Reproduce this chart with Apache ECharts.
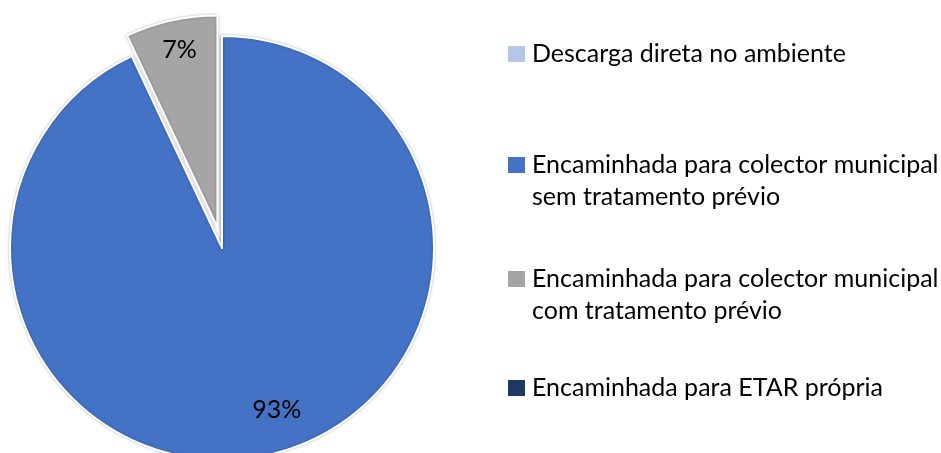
<!DOCTYPE html>
<html>
<head>
<meta charset="utf-8">
<script src="https://cdn.jsdelivr.net/npm/echarts@6/dist/echarts.min.js"></script>
<style>
  html, body { margin: 0; padding: 0; background: #fff; }
  #chart { width: 941px; height: 453px; }
</style>
</head>
<body>
<div id="chart"></div>
<script>
// destino das águas residuais (%)
var categories = [
  'Descarga direta no ambiente',
  'Encaminhada para colector municipal\nsem tratamento prévio',
  'Encaminhada para colector municipal\ncom tratamento prévio',
  'Encaminhada para ETAR própria'
];
var values = [0, 93, 7, 0];
var colors = ['#B4C7E7', '#4472C4', '#A5A5A5', '#203864'];

var FONT = 'Lato';
var FONT_SIZE = 25;
var legendTops = [38, 117, 231, 372];

var labelOffsets = [[0, 0], [31, 56], [-14, -71], [0, 0]];

var pieData = categories.map(function (name, i) {
  var lbl = { show: values[i] > 0, offset: labelOffsets[i] };
  return {
    name: name,
    value: values[i],
    selected: i === 2,
    itemStyle: { color: colors[i] },
    label: lbl,
    select: { label: lbl }
  };
});

// uma legenda por item para reproduzir o espaçamento
var legends = categories.map(function (name, i) {
  return {
    data: [name],
    orient: 'vertical',
    left: 508,
    top: legendTops[i],
    padding: 0,
    itemWidth: 17,
    itemHeight: 16,
    icon: 'rect',
    selectedMode: false,
    itemStyle: { color: colors[i], borderColor: colors[i], borderWidth: 0, shadowBlur: 0 },
    // linha vazia em cima: o ícone fica alinhado com a 1ª linha
    formatter: function (n) {
      return n.indexOf('\n') >= 0 ? ' \n' + n : n;
    },
    textStyle: {
      fontFamily: FONT,
      fontSize: FONT_SIZE,
      lineHeight: 32,
      color: '#000',
      padding: [0, 0, 0, 2]
    }
  };
});

var myChart = echarts.init(document.getElementById('chart'));
myChart.setOption({
  animation: false,
  legend: legends,
  series: [{
    type: 'pie',
    center: [222, 248],
    radius: 212,
    startAngle: 90,
    clockwise: true,
    selectedMode: 'single',
    selectedOffset: 21,
    avoidLabelOverlap: false,
    itemStyle: {
      borderColor: '#fff',
      borderWidth: 2,
      shadowBlur: 3,
      shadowColor: 'rgba(0,0,0,0.25)'
    },
    label: {
      position: 'inside',
      formatter: function (p) { return p.value + '%'; },
      fontFamily: FONT,
      fontSize: FONT_SIZE,
      color: '#000'
    },
    labelLine: { show: false },
    emphasis: { disabled: true },
    data: pieData
  }]
});
window.addEventListener('resize', function () { myChart.resize(); });
</script>
</body>
</html>
